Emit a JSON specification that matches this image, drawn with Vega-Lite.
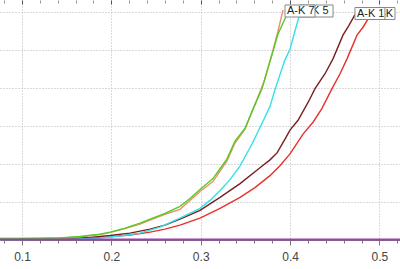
{
  "$schema": "https://vega.github.io/schema/vega-lite/v6.json",
  "width": 400,
  "height": 240,
  "padding": {"left": 0, "top": 0, "right": 0, "bottom": 29},
  "autosize": {"type": "none"},
  "background": "white",
  "config": {"view": {"stroke": null}, "axisY": {"labels": false, "ticks": false, "domain": false, "title": null, "grid": true, "gridColor": "#b4b4b4", "gridDash": [1, 2]}},
  "datasets": {
    "curves": [
      {"series": "red", "x": 0.0754, "y": 0.039},
      {"series": "red", "x": 0.1425, "y": 0.039},
      {"series": "red", "x": 0.1873, "y": 0.065},
      {"series": "red", "x": 0.2209, "y": 0.13},
      {"series": "red", "x": 0.2433, "y": 0.208},
      {"series": "red", "x": 0.26, "y": 0.286},
      {"series": "red", "x": 0.2768, "y": 0.391},
      {"series": "red", "x": 0.2992, "y": 0.573},
      {"series": "red", "x": 0.3216, "y": 0.833},
      {"series": "red", "x": 0.344, "y": 1.12},
      {"series": "red", "x": 0.3607, "y": 1.38},
      {"series": "red", "x": 0.3775, "y": 1.693},
      {"series": "red", "x": 0.3887, "y": 1.953},
      {"series": "red", "x": 0.3999, "y": 2.266},
      {"series": "red", "x": 0.4145, "y": 2.786},
      {"series": "red", "x": 0.4257, "y": 3.099},
      {"series": "red", "x": 0.4357, "y": 3.464},
      {"series": "red", "x": 0.4469, "y": 3.984},
      {"series": "red", "x": 0.4559, "y": 4.375},
      {"series": "red", "x": 0.4637, "y": 4.766},
      {"series": "red", "x": 0.4749, "y": 5.391},
      {"series": "red", "x": 0.4816, "y": 5.599},
      {"series": "red", "x": 0.4894, "y": 5.9},
      {"series": "brown", "x": 0.0754, "y": 0.026},
      {"series": "brown", "x": 0.1425, "y": 0.039},
      {"series": "brown", "x": 0.1761, "y": 0.065},
      {"series": "brown", "x": 0.1985, "y": 0.117},
      {"series": "brown", "x": 0.2209, "y": 0.182},
      {"series": "brown", "x": 0.2433, "y": 0.286},
      {"series": "brown", "x": 0.26, "y": 0.391},
      {"series": "brown", "x": 0.2768, "y": 0.547},
      {"series": "brown", "x": 0.2992, "y": 0.781},
      {"series": "brown", "x": 0.3216, "y": 1.12},
      {"series": "brown", "x": 0.344, "y": 1.484},
      {"series": "brown", "x": 0.3663, "y": 1.901},
      {"series": "brown", "x": 0.3775, "y": 2.109},
      {"series": "brown", "x": 0.3854, "y": 2.292},
      {"series": "brown", "x": 0.3943, "y": 2.656},
      {"series": "brown", "x": 0.3999, "y": 2.891},
      {"series": "brown", "x": 0.4089, "y": 3.151},
      {"series": "brown", "x": 0.4201, "y": 3.62},
      {"series": "brown", "x": 0.4279, "y": 3.984},
      {"series": "brown", "x": 0.4391, "y": 4.375},
      {"series": "brown", "x": 0.448, "y": 4.766},
      {"series": "brown", "x": 0.4592, "y": 5.391},
      {"series": "brown", "x": 0.4659, "y": 5.65},
      {"series": "brown", "x": 0.4726, "y": 5.93},
      {"series": "cyan", "x": 0.0754, "y": 0.013},
      {"series": "cyan", "x": 0.1649, "y": 0.026},
      {"series": "cyan", "x": 0.1873, "y": 0.052},
      {"series": "cyan", "x": 0.2097, "y": 0.104},
      {"series": "cyan", "x": 0.2321, "y": 0.182},
      {"series": "cyan", "x": 0.2544, "y": 0.339},
      {"series": "cyan", "x": 0.2768, "y": 0.573},
      {"series": "cyan", "x": 0.2992, "y": 0.833},
      {"series": "cyan", "x": 0.3104, "y": 1.042},
      {"series": "cyan", "x": 0.3216, "y": 1.302},
      {"series": "cyan", "x": 0.3328, "y": 1.589},
      {"series": "cyan", "x": 0.344, "y": 1.953},
      {"series": "cyan", "x": 0.3574, "y": 2.526},
      {"series": "cyan", "x": 0.3697, "y": 3.125},
      {"series": "cyan", "x": 0.3775, "y": 3.516},
      {"series": "cyan", "x": 0.3831, "y": 3.958},
      {"series": "cyan", "x": 0.3943, "y": 4.74},
      {"series": "cyan", "x": 0.3999, "y": 5.02},
      {"series": "cyan", "x": 0.4055, "y": 5.5},
      {"series": "cyan", "x": 0.41, "y": 5.88},
      {"series": "orange", "x": 0.0754, "y": 0.026},
      {"series": "orange", "x": 0.1202, "y": 0.039},
      {"series": "orange", "x": 0.1425, "y": 0.052},
      {"series": "orange", "x": 0.1649, "y": 0.078},
      {"series": "orange", "x": 0.1873, "y": 0.143},
      {"series": "orange", "x": 0.1985, "y": 0.195},
      {"series": "orange", "x": 0.2153, "y": 0.299},
      {"series": "orange", "x": 0.2321, "y": 0.417},
      {"series": "orange", "x": 0.2433, "y": 0.521},
      {"series": "orange", "x": 0.26, "y": 0.677},
      {"series": "orange", "x": 0.2768, "y": 0.807},
      {"series": "orange", "x": 0.2992, "y": 1.276},
      {"series": "orange", "x": 0.3137, "y": 1.536},
      {"series": "orange", "x": 0.3294, "y": 2.083},
      {"series": "orange", "x": 0.3384, "y": 2.552},
      {"series": "orange", "x": 0.3496, "y": 2.917},
      {"series": "orange", "x": 0.3607, "y": 3.568},
      {"series": "orange", "x": 0.3708, "y": 4.167},
      {"series": "orange", "x": 0.3798, "y": 4.896},
      {"series": "orange", "x": 0.3865, "y": 5.5},
      {"series": "orange", "x": 0.3921, "y": 6.05},
      {"series": "green", "x": 0.0754, "y": 0.026},
      {"series": "green", "x": 0.1202, "y": 0.039},
      {"series": "green", "x": 0.1425, "y": 0.052},
      {"series": "green", "x": 0.1649, "y": 0.091},
      {"series": "green", "x": 0.1873, "y": 0.156},
      {"series": "green", "x": 0.1985, "y": 0.208},
      {"series": "green", "x": 0.2153, "y": 0.313},
      {"series": "green", "x": 0.2321, "y": 0.443},
      {"series": "green", "x": 0.2433, "y": 0.547},
      {"series": "green", "x": 0.26, "y": 0.703},
      {"series": "green", "x": 0.2768, "y": 0.885},
      {"series": "green", "x": 0.288, "y": 1.094},
      {"series": "green", "x": 0.2992, "y": 1.328},
      {"series": "green", "x": 0.3137, "y": 1.615},
      {"series": "green", "x": 0.3216, "y": 1.875},
      {"series": "green", "x": 0.3294, "y": 2.135},
      {"series": "green", "x": 0.3384, "y": 2.604},
      {"series": "green", "x": 0.3496, "y": 2.943},
      {"series": "green", "x": 0.3574, "y": 3.385},
      {"series": "green", "x": 0.3686, "y": 3.984},
      {"series": "green", "x": 0.3775, "y": 4.7},
      {"series": "green", "x": 0.3865, "y": 5.42},
      {"series": "green", "x": 0.3954, "y": 5.88}
    ],
    "baseline": [
      {"series": "purple", "x": 0.0754, "y": 0.01},
      {"series": "purple", "x": 0.1, "y": 0.01},
      {"series": "purple", "x": 0.2, "y": 0.01},
      {"series": "purple", "x": 0.3, "y": 0.01},
      {"series": "purple", "x": 0.4, "y": 0.01},
      {"series": "purple", "x": 0.5, "y": 0.01},
      {"series": "purple", "x": 0.523, "y": 0.01}
    ],
    "labels": [
      {"label": "A-K 5", "x": 0.41, "y": 6.026},
      {"label": "A-K 7", "x": 0.3943, "y": 6.026},
      {"label": "A-K", "x": 0.4894, "y": 5.96},
      {"label": "A-K 1", "x": 0.4726, "y": 5.96}
    ]
  },
  "resolve": {"axis": {"x": "independent"}},
  "layer": [
    {
      "data": {"name": "curves"},
      "mark": {"type": "line", "strokeWidth": 1.4},
      "encoding": {
        "x": {
          "field": "x", "type": "quantitative",
          "scale": {"domain": [0.0754, 0.523], "nice": false, "zero": false},
          "axis": {
            "orient": "bottom", "title": null,
            "values": [0.08, 0.1, 0.12, 0.14, 0.16, 0.18, 0.2, 0.22, 0.24, 0.26, 0.28, 0.3, 0.32, 0.34, 0.36, 0.38, 0.4, 0.42, 0.44, 0.46, 0.48, 0.5, 0.52],
            "labelExpr": "abs(datum.value*10-round(datum.value*10))<0.001 ? format(datum.value,'.1f') : ''",
            "labelOverlap": false, "labelFlush": false,
            "labelFont": "Liberation Sans", "labelFontSize": 12, "labelColor": "#444", "labelPadding": 6,
            "grid": true, "gridColor": "#b4b4b4", "gridDash": [1, 2],
            "gridOpacity": {"condition": {"test": "abs(datum.value*10-round(datum.value*10))<0.001", "value": 1}, "value": 0},
            "tickSize": {"condition": {"test": "abs(datum.value*10-round(datum.value*10))<0.001", "value": 5}, "value": 3},
            "tickColor": "#777", "domainColor": "#777"
          }
        },
        "y": {
          "field": "y", "type": "quantitative",
          "scale": {"domain": [0, 6.3158], "nice": false},
          "axis": {"values": [0, 1, 2, 3, 4, 5, 6]}
        },
        "color": {
          "field": "series", "type": "nominal", "legend": null,
          "scale": {"domain": ["red", "brown", "cyan", "orange", "green", "purple"], "range": ["#e8302c", "#7a1f1f", "#33e0e8", "#e8906a", "#55cc22", "#9c3fb5"]}
        }
      }
    },
    {
      "data": {"name": "baseline"},
      "mark": {"type": "line", "strokeWidth": 2},
      "encoding": {
        "x": {
          "field": "x", "type": "quantitative",
          "axis": {
            "orient": "top", "title": null, "labels": false, "grid": false, "domain": false,
            "values": [0.08, 0.1, 0.12, 0.14, 0.16, 0.18, 0.2, 0.22, 0.24, 0.26, 0.28, 0.3, 0.32, 0.34, 0.36, 0.38, 0.4, 0.42, 0.44, 0.46, 0.48, 0.5, 0.52],
            "tickSize": {"condition": {"test": "abs(datum.value*10-round(datum.value*10))<0.001", "value": -4}, "value": -3},
            "tickColor": {"condition": {"test": "abs(datum.value*10-round(datum.value*10))<0.001", "value": "#555"}, "value": "#999"}
          }
        },
        "y": {"field": "y", "type": "quantitative", "axis": {"values": [0, 1, 2, 3, 4, 5, 6]}},
        "color": {"field": "series", "type": "nominal", "legend": null}
      }
    },
    {
      "data": {"name": "labels"},
      "transform": [{"filter": "datum.label == 'A-K 5'"}],
      "layer": [
        {"mark": {"type": "rect", "fill": "white", "stroke": "#888", "strokeWidth": 1, "x2Offset": 34, "yOffset": -6, "y2Offset": 6},
         "encoding": {"x": {"field": "x", "type": "quantitative", "axis": null}, "x2": {"field": "x"}, "y": {"field": "y", "type": "quantitative", "axis": {"values": [0, 1, 2, 3, 4, 5, 6]}}, "y2": {"field": "y"}}},
        {"mark": {"type": "text", "align": "left", "baseline": "middle", "dx": 2, "fontSize": 11, "font": "Liberation Sans", "color": "#222"},
         "encoding": {"x": {"field": "x", "type": "quantitative", "axis": null}, "y": {"field": "y", "type": "quantitative", "axis": {"values": [0, 1, 2, 3, 4, 5, 6]}}, "text": {"field": "label"}}}
      ]
    },
    {
      "data": {"name": "labels"},
      "transform": [{"filter": "datum.label == 'A-K 7'"}],
      "layer": [
        {"mark": {"type": "rect", "fill": "white", "stroke": "#888", "strokeWidth": 1, "x2Offset": 30, "yOffset": -6, "y2Offset": 6},
         "encoding": {"x": {"field": "x", "type": "quantitative", "axis": null}, "x2": {"field": "x"}, "y": {"field": "y", "type": "quantitative", "axis": {"values": [0, 1, 2, 3, 4, 5, 6]}}, "y2": {"field": "y"}}},
        {"mark": {"type": "text", "align": "left", "baseline": "middle", "dx": 2, "fontSize": 11, "font": "Liberation Sans", "color": "#222"},
         "encoding": {"x": {"field": "x", "type": "quantitative", "axis": null}, "y": {"field": "y", "type": "quantitative", "axis": {"values": [0, 1, 2, 3, 4, 5, 6]}}, "text": {"field": "label"}}}
      ]
    },
    {
      "data": {"name": "labels"},
      "transform": [{"filter": "datum.label == 'A-K'"}],
      "layer": [
        {"mark": {"type": "rect", "fill": "white", "stroke": "#888", "strokeWidth": 1, "x2Offset": 25, "yOffset": -6, "y2Offset": 6},
         "encoding": {"x": {"field": "x", "type": "quantitative", "axis": null}, "x2": {"field": "x"}, "y": {"field": "y", "type": "quantitative", "axis": {"values": [0, 1, 2, 3, 4, 5, 6]}}, "y2": {"field": "y"}}},
        {"mark": {"type": "text", "align": "right", "baseline": "middle", "dx": 23, "fontSize": 11, "font": "Liberation Sans", "color": "#222"},
         "encoding": {"x": {"field": "x", "type": "quantitative", "axis": null}, "y": {"field": "y", "type": "quantitative", "axis": {"values": [0, 1, 2, 3, 4, 5, 6]}}, "text": {"field": "label"}}}
      ]
    },
    {
      "data": {"name": "labels"},
      "transform": [{"filter": "datum.label == 'A-K 1'"}],
      "layer": [
        {"mark": {"type": "rect", "fill": "white", "stroke": "#888", "strokeWidth": 1, "x2Offset": 30, "yOffset": -6, "y2Offset": 6},
         "encoding": {"x": {"field": "x", "type": "quantitative", "axis": null}, "x2": {"field": "x"}, "y": {"field": "y", "type": "quantitative", "axis": {"values": [0, 1, 2, 3, 4, 5, 6]}}, "y2": {"field": "y"}}},
        {"mark": {"type": "text", "align": "left", "baseline": "middle", "dx": 2, "fontSize": 11, "font": "Liberation Sans", "color": "#222"},
         "encoding": {"x": {"field": "x", "type": "quantitative", "axis": null}, "y": {"field": "y", "type": "quantitative", "axis": {"values": [0, 1, 2, 3, 4, 5, 6]}}, "text": {"field": "label"}}}
      ]
    }
  ]
}
